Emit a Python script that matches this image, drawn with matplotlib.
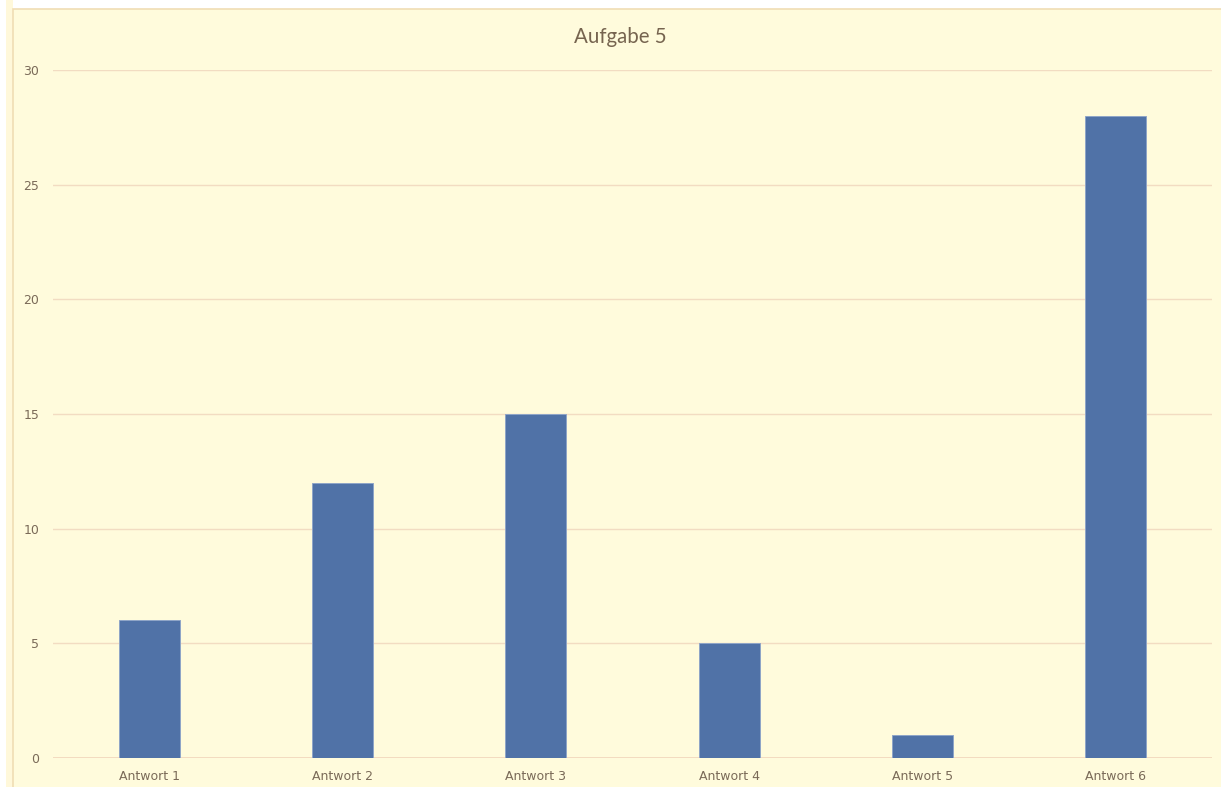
import matplotlib.pyplot as plt
from matplotlib.patches import Rectangle

antworten = ['Antwort 1', 'Antwort 2', 'Antwort 3', 'Antwort 4', 'Antwort 5', 'Antwort 6']
anzahl = [6, 12, 15, 5, 1, 28]
y_ticks = [0, 5, 10, 15, 20, 25, 30]

bg = '#FFFBDC'
text_col = '#7A6A58'

fig = plt.figure(figsize=(12.21, 7.87), dpi=100, facecolor='white')

# Diagrammfläche mit Rahmen
fig.patches.append(Rectangle((6 / 1221, 0), 7 / 1221, 1, transform=fig.transFigure,
                             facecolor='#FFF8DA', edgecolor='none', zorder=-2))
fig.patches.append(Rectangle((13 / 1221, -0.05), 1.1, 1 - 9 / 787 + 0.05,
                             transform=fig.transFigure, facecolor=bg,
                             edgecolor='#F0DDB4', linewidth=1.2, zorder=-1))

ax = fig.add_axes([53 / 1221, 29 / 787, 1159 / 1221, 688 / 787])
ax.set_zorder(1)
ax.set_facecolor('none')

x = range(len(antworten))
ax.bar(x, anzahl, width=0.316, color='#5072A7', edgecolor='#8FA5C8', linewidth=0.7, zorder=3)

ax.set_xlim(-0.5, len(antworten) - 0.5)
ax.set_ylim(0, 30)
ax.set_yticks(y_ticks)
ax.set_xticks(list(x))
ax.set_xticklabels(antworten)
ax.grid(axis='y', color='#F2DCC2', linewidth=1, zorder=0)
for s in ax.spines.values():
    s.set_visible(False)
ax.axhline(0, color='#F2D6BC', linewidth=1.2, zorder=2)
ax.tick_params(length=0, colors=text_col, labelsize=9)
ax.tick_params(axis='y', pad=10)
ax.tick_params(axis='x', pad=8.5)
for lbl in ax.get_xticklabels() + ax.get_yticklabels():
    lbl.set_family('DejaVu Sans')

fig.text(620 / 1221, 1 - 37 / 787, 'Aufgabe 5', ha='center', va='center',
         fontsize=14.8, color='#76644F', family='Lato')

fig.savefig('out.png', dpi=100, facecolor='white')
